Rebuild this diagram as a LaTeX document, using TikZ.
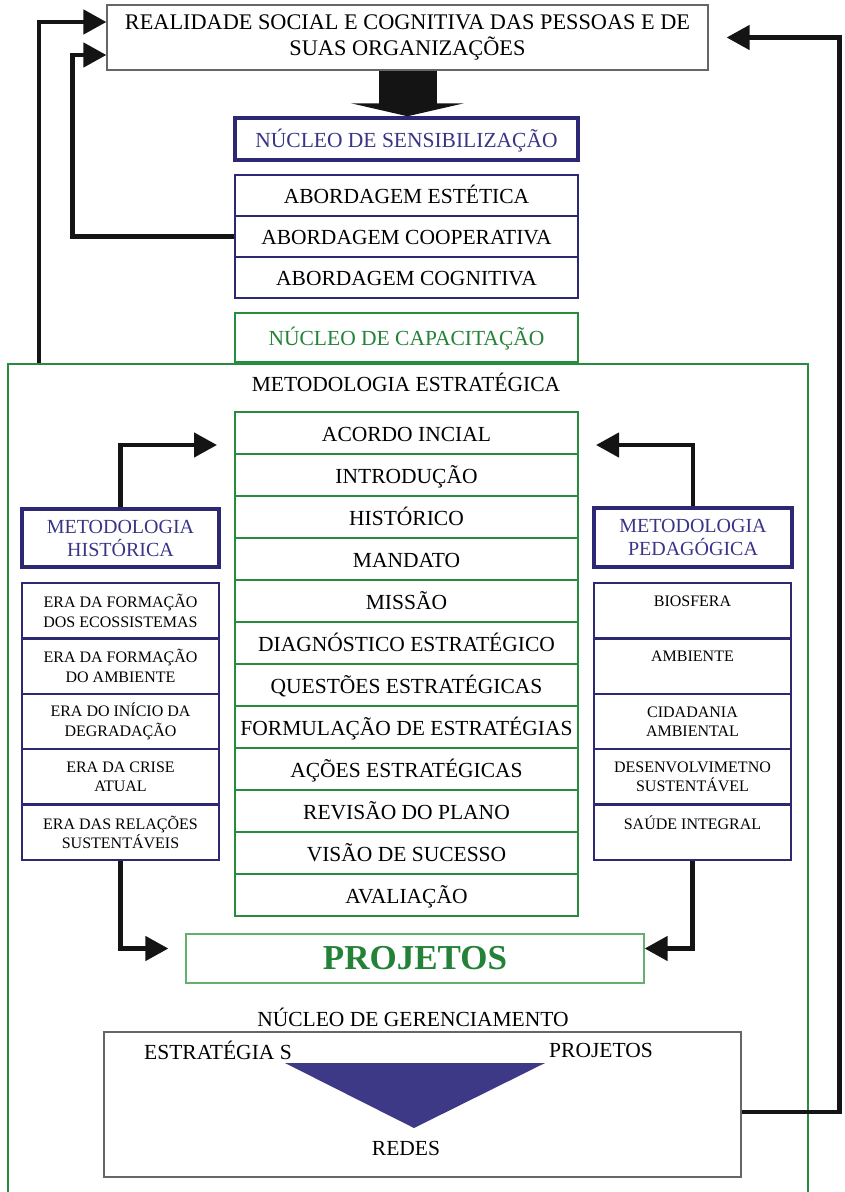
\documentclass[tikz,border=0pt]{standalone}
\usepackage{fontspec}
\setmainfont{Liberation Serif}
\usepackage{xcolor}
\usetikzlibrary{arrows.meta, positioning}

\definecolor{navy}{RGB}{45,40,115}
\definecolor{navytxt}{RGB}{58,52,135}
\definecolor{grn}{RGB}{40,140,62}
\definecolor{grntxt}{RGB}{35,130,55}
\definecolor{lightgrn}{RGB}{100,175,110}
\definecolor{trifill}{RGB}{62,57,135}
\definecolor{arrblack}{RGB}{20,20,20}

\begin{document}
\begin{tikzpicture}[x=1pt, y=-1pt,
    big/.style={font=\fontsize{21.5}{26}\selectfont},
    small/.style={font=\fontsize{16}{19.5}\selectfont},
    oneline/.style={text height=16pt, text depth=0pt},
    plain/.style={draw=black!60, line width=1.2pt, big, align=center, inner sep=0pt},
    head/.style={draw=navy, line width=3.5pt, text=navytxt, big, align=center, inner sep=0pt},
    bcell/.style={draw=navy, line width=2pt, big, oneline, minimum width=343pt, minimum height=41pt, inner sep=0pt},
    gcell/.style={draw=grn, line width=2pt, big, oneline, minimum width=343pt, minimum height=42pt, inner sep=0pt},
    scell/.style={draw=navy, line width=2.5pt, small, align=center, minimum width=197pt, minimum height=55.4pt, inner sep=0pt},
    arr/.style={line width=4.5pt, draw=arrblack, -{Triangle[length=23pt,width=24pt]}},
]
\useasboundingbox (0,0) rectangle (844,1192);

% top
\node[plain, font=\fontsize{22.3}{26}\selectfont, minimum width=601pt, minimum height=65pt] (realidade) at (407.5,37.5)
    {REALIDADE SOCIAL E COGNITIVA DAS PESSOAS E DE\\SUAS ORGANIZAÇÕES};
\node[head, oneline, minimum width=343pt, minimum height=42pt] (sensib) at (406.5,139) {NÚCLEO DE SENSIBILIZAÇÃO};
\draw[line width=58pt, draw=arrblack, -{Triangle[length=13pt,width=113pt]}]
    (realidade.south) -- (realidade.south |- sensib.north);

\node[bcell] (abord1) at (406.5,195.5) {ABORDAGEM ESTÉTICA};
\node[bcell] (abord2) at (406.5,236.5) {ABORDAGEM COOPERATIVA};
\node[bcell] (abord3) at (406.5,277.5) {ABORDAGEM COGNITIVA};

% capacitacao
\node[draw=grn, line width=2pt, minimum width=800pt, minimum height=900pt, anchor=north west] (metframe) at (7,363) {};
\node[draw=grn, line width=2.5pt, text=grntxt, big, oneline, minimum width=343pt, minimum height=49pt, inner sep=0pt] (capacit) at (406.5,337.5) {NÚCLEO DE CAPACITAÇÃO};
\node[big] (metlabel) at (406,382) {METODOLOGIA ESTRATÉGICA};

\foreach \txt [count=\i] in {ACORDO INCIAL, INTRODUÇÃO, HISTÓRICO, MANDATO, MISSÃO,
    DIAGNÓSTICO ESTRATÉGICO, QUESTÕES ESTRATÉGICAS, FORMULAÇÃO DE ESTRATÉGIAS,
    AÇÕES ESTRATÉGICAS, REVISÃO DO PLANO, VISÃO DE SUCESSO, AVALIAÇÃO}
    \node[gcell] (s\i) at (406.5,{433+42*(\i-1)}) {\txt};

% side columns
\node[head, font=\fontsize{20}{23}\selectfont, minimum width=197pt, minimum height=58pt] (methist) at (120.5,538) {METODOLOGIA\\HISTÓRICA};
\node[head, font=\fontsize{20}{23}\selectfont, minimum width=198pt, minimum height=59pt] (metped) at (693,537.5) {METODOLOGIA\\PEDAGÓGICA};

\foreach \txt [count=\i] in {{ERA DA FORMAÇÃO\\DOS ECOSSISTEMAS}, {ERA DA FORMAÇÃO\\DO AMBIENTE},
    {ERA DO INÍCIO DA\\DEGRADAÇÃO}, {ERA DA CRISE\\ATUAL}, {ERA DAS RELAÇÕES\\SUSTENTÁVEIS}}
    \node[scell] (h\i) at (120.5,{583+55.4*(\i-0.5)}) {\txt};

\foreach \txt [count=\i] in {{BIOSFERA\\\mbox{}}, {AMBIENTE\\\mbox{}}, {CIDADANIA\\AMBIENTAL},
    {DESENVOLVIMETNO\\SUSTENTÁVEL}, {SAÚDE INTEGRAL\\\mbox{}}}
    \node[scell] (p\i) at (692.5,{583+55.4*(\i-0.5)}) {\txt};

\node[draw=lightgrn, line width=1.2pt, text=grntxt, font=\fontsize{35}{40}\selectfont\bfseries, minimum width=458pt, minimum height=49pt, inner sep=0pt] (projetos) at (415,958.5) {PROJETOS};

% gerenciamento
\node[big] (gerlabel) at (413,1017) {NÚCLEO DE GERENCIAMENTO};
\node[plain, minimum width=637pt, minimum height=145pt] (gerenc) at (422.5,1104.5) {};
\node[big] (estr) at (218,1050) {ESTRATÉGIA S};
\node[big] (proj2) at (601,1050) {PROJETOS};
\node[big] (redes) at (406,1148) {REDES};
\fill[trifill] (285,1063) -- (545,1063) -- (414,1128) -- cycle;

% feedback arrows
\draw[arr] ([xshift=32pt]metframe.north west) |- ([yshift=15.5pt]realidade.west);
\draw[arr] (abord2.west) -| ([xshift=-34pt,yshift=-17.5pt]realidade.west) -- ([yshift=-17.5pt]realidade.west);
\draw[arr, shorten >=18pt] ([yshift=-7.5pt]gerenc.east) -| ([xshift=131pt]realidade.east) -- (realidade.east);
\draw[arr, shorten >=17pt] (methist.north) |- ([yshift=-12pt]s1.west);
\draw[arr, shorten >=17pt] (metped.north) |- ([yshift=-12pt]s1.east);
\draw[arr, shorten >=17pt] (h5.south) |- ([yshift=10pt]projetos.west);
\draw[arr] (p5.south) |- ([yshift=10pt]projetos.east);

\end{tikzpicture}
\end{document}
